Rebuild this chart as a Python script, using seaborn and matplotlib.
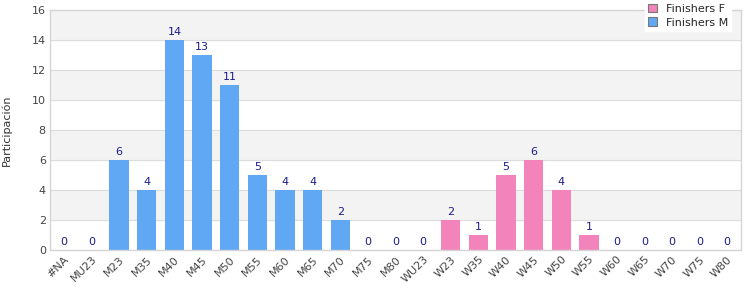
import pandas as pd
import seaborn as sns
import matplotlib.pyplot as plt

categories = ["#NA", "MU23", "M23", "M35", "M40", "M45", "M50", "M55", "M60", "M65",
              "M70", "M75", "M80", "WU23", "W23", "W35", "W40", "W45", "W50", "W55",
              "W60", "W65", "W70", "W75", "W80"]
values = [0, 0, 6, 4, 14, 13, 11, 5, 4, 4,
          2, 0, 0, 0, 2, 1, 5, 6, 4, 1,
          0, 0, 0, 0, 0]
series = ["Finishers M"] * 13 + ["Finishers F"] * 12

df = pd.DataFrame({"cat": categories, "val": values, "serie": series})

sns.set_theme(style="white")
plt.rcParams["font.family"] = ["DejaVu Sans"]

fig = plt.figure(figsize=(7.5, 3), dpi=100)
ax = fig.add_axes([0.0667, 0.1667, 0.9213, 0.80])

# franjas alternas de fondo
for y0 in range(2, 16, 4):
    ax.axhspan(y0, y0 + 2, color="#f3f3f3", zorder=0)

palette = {"Finishers F": "#f283bb", "Finishers M": "#60a8f4"}
sns.barplot(data=df, x="cat", y="val", hue="serie", hue_order=["Finishers F", "Finishers M"],
            order=categories, palette=palette, dodge=False, width=0.7,
            saturation=1, linewidth=0, ax=ax, zorder=2)

for c in ax.containers:
    ax.bar_label(c, fmt="%g", padding=2, color="#1c1c8c", fontsize=8)

ax.set_ylim(0, 16)
ax.set_xlim(-0.5, len(categories) - 0.5)
ax.set_yticks(range(0, 17, 2))
ax.yaxis.grid(True, color="#dddddd", linewidth=0.8, zorder=1)
ax.set_axisbelow(True)
ax.set_xlabel("")
ax.set_ylabel("Participación", fontsize=8, color="#333333", labelpad=14)
ax.tick_params(axis="both", labelsize=8, colors="#444444", length=0, pad=3)
plt.setp(ax.get_xticklabels(), rotation=45, ha="right", rotation_mode="anchor")
for s in ax.spines.values():
    s.set_color("#d5d5d5")
    s.set_linewidth(1)

leg = ax.legend(loc="upper right", bbox_to_anchor=(0.994, 1.062), fontsize=8,
                frameon=True, fancybox=False, framealpha=1, edgecolor="white",
                handlelength=0.8, handleheight=0.8, borderpad=0.3, labelspacing=0.3,
                handletextpad=0.8)
for h in leg.legend_handles:
    h.set_edgecolor("#777777")
    h.set_linewidth(0.8)

fig.savefig("out.png", dpi=100)
